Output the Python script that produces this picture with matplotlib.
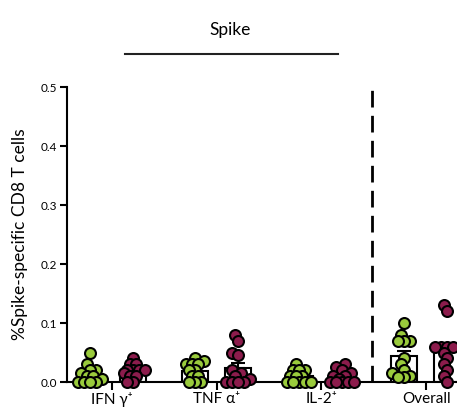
import numpy as np
import matplotlib

matplotlib.use("Agg")
import matplotlib.pyplot as plt  # noqa: E402

plt.rcParams["font.family"] = ["Lato", "DejaVu Sans"]

# --- data -------------------------------------------------------------------

categories = ["IFN γ⁺", "TNF α⁺", "IL-2⁺", "Overall"]

group_a = [
    [0.05, 0.03, 0.02, 0.02, 0.015, 0.01, 0.01, 0.005, 0.0, 0.0, 0.0, 0.0],
    [0.04, 0.035, 0.03, 0.03, 0.03, 0.02, 0.02, 0.01, 0.01, 0.0, 0.0, 0.0],
    [0.03, 0.02, 0.02, 0.02, 0.01, 0.01, 0.01, 0.0, 0.0, 0.0, 0.0, 0.0],
    [0.10, 0.08, 0.07, 0.07, 0.07, 0.04, 0.03, 0.02, 0.015, 0.01, 0.008, 0.008],
]
group_b = [
    [0.04, 0.03, 0.03, 0.02, 0.02, 0.02, 0.02, 0.015, 0.01, 0.01, 0.0, 0.0],
    [0.08, 0.07, 0.05, 0.045, 0.02, 0.015, 0.01, 0.005, 0.0, 0.0, 0.0, 0.0],
    [0.03, 0.025, 0.02, 0.015, 0.01, 0.01, 0.005, 0.0, 0.0, 0.0, 0.0, 0.0],
    [0.13, 0.12, 0.06, 0.06, 0.06, 0.06, 0.05, 0.04, 0.03, 0.02, 0.01, 0.0],
]

GREEN = "#9acb3c"
PURPLE = "#8c1c4c"

PX_PER_X = 104.7   # pixels per category unit
PX_PER_Y = 590.0   # pixels per y unit

# --- helpers ----------------------------------------------------------------


def swarm_offsets(values, step=3.0, min_dist=6.0, max_off=14.0):
    """Compact beeswarm in pixel space; points may overlap a little."""
    order = np.argsort(values)
    placed = []
    offsets = np.zeros(len(values))
    cands = [0.0]
    k = 1
    while k * step <= max_off:
        cands += [-k * step, k * step]
        k += 1
    for i in order:
        y = values[i] * PX_PER_Y
        best, best_d = 0.0, -1.0
        for c in cands:
            d = min((np.hypot(c - ox, y - oy) for ox, oy in placed),
                    default=1e9)
            if d >= min_dist:
                best = c
                break
            if d > best_d:
                best, best_d = c, d
        placed.append((best, y))
        offsets[i] = best
    return offsets / PX_PER_X


def draw_group(ax, x, vals, color):
    vals = np.asarray(vals)
    mean = vals.mean()
    sem = vals.std(ddof=1) / np.sqrt(len(vals))
    ax.bar(x, mean, width=0.25, facecolor="white", edgecolor="black",
           linewidth=1.5, zorder=2)
    ax.errorbar(x, mean, yerr=[[0], [sem]], color="black", capsize=5,
                elinewidth=1.5, capthick=1.5, zorder=2)
    ax.scatter(x + swarm_offsets(vals), vals, s=62, color=color,
               edgecolors="black", linewidths=1.5, zorder=3, clip_on=False)


# --- figure -----------------------------------------------------------------

fig = plt.figure(figsize=(4.57, 4.12), dpi=100)
ax = fig.add_axes([0.1466, 0.0728, 0.8534, 0.716])

xs = np.arange(len(categories))
for i in xs:
    draw_group(ax, i - 0.21, group_a[i], GREEN)
    draw_group(ax, i + 0.20, group_b[i], PURPLE)

ax.set_xlim(-0.43, 3.295)
ax.set_ylim(0, 0.5)
yt = [0.0, 0.1, 0.2, 0.3, 0.4, 0.5]
ax.set_yticks(yt)
ax.set_yticklabels([f"{v:.1f}" for v in yt])
ax.set_xticks(xs)
ax.set_xticklabels(categories, fontsize=11)
ax.tick_params(axis="y", direction="out", length=5, width=1.5, labelsize=8.5,
               pad=2)
ax.tick_params(axis="x", direction="out", length=6, width=1.5, pad=1)
for s in ("top", "right"):
    ax.spines[s].set_visible(False)
for s in ("left", "bottom"):
    ax.spines[s].set_linewidth(1.5)
ax.set_ylabel("%Spike-specific CD8 T cells", fontsize=12.5, labelpad=9)

ax.axvline(2.48, ymin=0, ymax=0.99, color="black", lw=2,
           linestyle=(0, (6, 3)))

# header bracket over the cytokine groups
fig.text(0.503, 0.927, "Spike", ha="center", va="center", fontsize=12.5)
fig.add_artist(plt.Line2D([0.274, 0.74], [0.869, 0.869], color="#222222",
                          lw=1.5))

fig.savefig("out.png", dpi=100)
